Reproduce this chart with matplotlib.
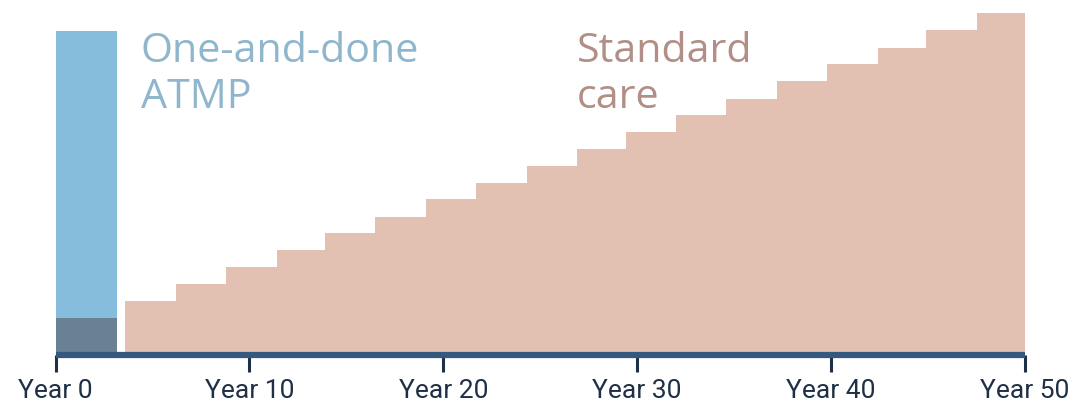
import numpy as np
import matplotlib.pyplot as plt

# step edges (years) and cumulative cost of standard care (relative units)
care_edges = [3.6, 6.2, 8.8, 11.4, 13.9, 16.5, 19.1, 21.7, 24.3, 26.9,
              29.4, 32.0, 34.6, 37.2, 39.8, 42.4, 44.9, 47.5, 50.0]
care_cost = [54, 71, 88, 105, 122, 138, 156, 172, 189, 206,
             223, 240, 256, 274, 291, 307, 325, 342]

# one-off ATMP payment
atmp_start = 0.0
atmp_end = 3.15
atmp_cost = 324
atmp_base = 37

tick_years = [0, 10, 20, 30, 40, 50]
tick_labels = ['Year 0', 'Year 10', 'Year 20', 'Year 30', 'Year 40', 'Year 50']

fig = plt.figure(figsize=(10.91, 4.07), dpi=100)
ax = fig.add_axes([55.5 / 1091, 52 / 407, (1025 - 55.5) / 1091, 355 / 407])

# standard care staircase
ax.stairs(care_cost, care_edges, fill=True, color='#e2c1b3', lw=0)

# ATMP bar
ax.bar(atmp_start, atmp_cost, width=atmp_end - atmp_start, align='edge',
       color='#86bcdc', lw=0)
ax.bar(atmp_start, atmp_base, width=atmp_end - atmp_start, align='edge',
       color='#6a8093', lw=0)

# baseline
ax.plot([0, 50], [0, 0], color='#34587e', lw=4.5, solid_capstyle='butt',
        clip_on=False, zorder=5)

ax.set_xlim(0, 50)
ax.set_ylim(0, 355)
ax.set_xticks(tick_years)
ax.set_xticklabels(tick_labels, fontsize=19, color='#1f2f45', family='Roboto')
ax.tick_params(axis='x', length=12, width=2.2, color='#1f2f45', pad=5)
ax.set_yticks([])
for s in ax.spines.values():
    s.set_visible(False)

ax.text(4.4, 324, 'One-and-done\nATMP', fontsize=29.7, color='#8fb6cc',
        family='Open Sans', va='top', linespacing=1.2)
ax.text(26.9, 324, 'Standard\ncare', fontsize=29.7, color='#b28f86',
        family='Open Sans', va='top', linespacing=1.2)

fig.savefig('out.png', dpi=100)
